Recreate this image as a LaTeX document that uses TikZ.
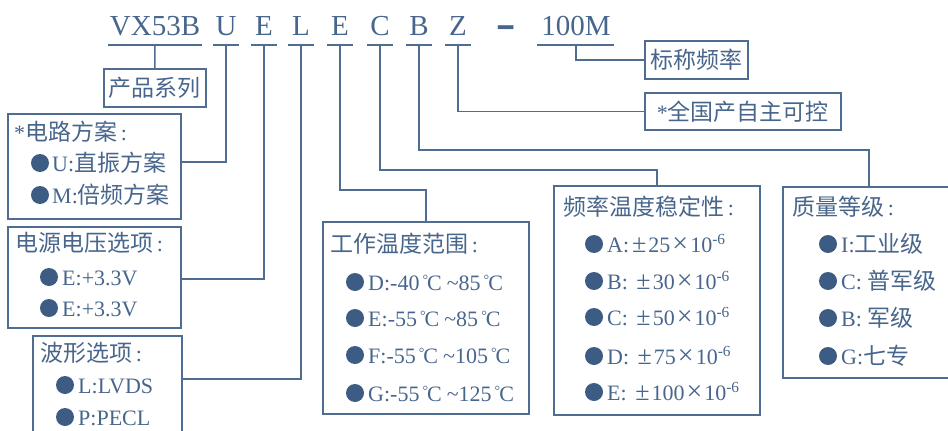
\documentclass[tikz,border=0pt]{standalone}
\usepackage{fontspec}
\setmainfont{Liberation Serif}
\newfontfamily\cjkf{Noto Sans CJK SC}
\usetikzlibrary{calc}
\definecolor{txt}{RGB}{72,102,140}
\definecolor{ln}{RGB}{79,108,145}
\definecolor{blt}{RGB}{61,92,132}
\newcommand\zh[1]{{\cjkf\fontsize{23}{23}\selectfont #1}}
\newcommand\myast{{\fontsize{22}{22}\selectfont *}}
\newcommand\dC{\hspace{3pt}\raisebox{6pt}{\fontsize{14}{14}\selectfont °}\kern-1pt C}
\newcommand\tld{\hspace{5pt}\textasciitilde}
\newcommand\pmx{\hspace{3pt}{\fontsize{26}{26}\selectfont ±}\hspace{2pt}}
\newcommand\tms{\hspace{2pt}{\fontsize{28}{28}\selectfont ×}\hspace{2pt}}
\newcommand\msix{10\textsuperscript{-6}}
\begin{document}
\begin{tikzpicture}[x=1pt,y=-1pt,
  box/.style={draw=ln, line width=1.5pt, anchor=north west, inner sep=0pt, text=txt},
  conn/.style={draw=ln, line width=1.5pt},
  code/.style={text=txt, font=\fontsize{29}{29}\selectfont, anchor=base, inner sep=0pt},
  lab/.style={text=txt, font=\fontsize{22}{22}\selectfont, anchor=base west, inner sep=0pt},
  dot/.style={circle, fill=blt, minimum size=18pt, inner sep=0pt}]
\clip (0,0) rectangle (948,431);

% code letters
\node[code] (cv) at (155,35) {VX53B};
\node[code] (cu) at (226,35) {U};
\node[code] (ce1) at (264,35) {E};
\node[code] (cl) at (301,35) {L};
\node[code] (ce2) at (340,35) {E};
\node[code] (cc) at (380,35) {C};
\node[code] (cb) at (419,35) {B};
\node[code] (cz) at (458,35) {Z};
\node[code] (cd) at (506,40) {\scalebox{1.05}[1.9]{\textbf{–}}};
\node[code] (cm) at (576,35) {100M};

% underlines
\draw[conn] ($(cv.base)+(-47,10)$) -- ($(cv.base)+(47,10)$);
\foreach \n in {cu,ce1,cl,ce2,cc,cb,cz}{
  \draw[conn] ($(\n.base)+(-13,10)$) -- ($(\n.base)+(13,10)$);
}
\draw[conn] ($(cm.base)+(-39,10)$) -- ($(cm.base)+(38,10)$);

% top boxes
\node[box, minimum width=102pt, minimum height=38pt] (bp) at (103,68) {\zh{产品系列}};
\node[box, minimum width=103pt, minimum height=38pt] (bf) at (644,40) {\zh{标称频率}};
\node[box, minimum width=196pt, minimum height=37pt] (bz) at (644,92) {\fontsize{22}{22}\selectfont\myast\zh{全国产自主可控}};

% option boxes
\node[box, minimum width=173pt, minimum height=105pt] (b1) at (7,113) {};
\node[box, minimum width=173pt, minimum height=101pt] (b2) at (7,226) {};
\node[box, minimum width=149pt, minimum height=110pt] (b3) at (32,335) {};
\node[box, minimum width=206pt, minimum height=192pt] (bt) at (322,221) {};
\node[box, minimum width=206pt, minimum height=229pt] (bs) at (553,185) {};
\node[box, minimum width=172pt, minimum height=191pt] (bq) at (782,186) {};

% connectors
\draw[conn] ($(cv.base)+(0,10)$) -- (bp.north);
\draw[conn] ($(cm.base)+(0,10)$) |- (bf.west);
\draw[conn] ($(cz.base)+(0,10)$) |- (bz.west);
\draw[conn] ($(cu.base)+(0,10)$) |- ($(b1.north east)+(0,49)$);
\draw[conn] ($(ce1.base)+(0,10)$) |- ($(b2.north east)+(0,53)$);
\draw[conn] ($(cl.base)+(0,10)$) |- ($(b3.north east)+(0,44)$);
\draw[conn] ($(ce2.base)+(0,10)$) -- ++(0,145) -| (bt.north);
\draw[conn] ($(cc.base)+(0,10)$) -- ++(0,125) -| (bs.north);
\draw[conn] ($(cb.base)+(0,10)$) -- ++(0,105) -| (bq.north);

% box 1
\node[lab] (t1) at (14,140) {\myast\zh{电路方案}\,:};
\node[dot] (d11) at (40,163) {};
\node[lab] (r11) at (52,171) {U:\zh{直振方案}};
\node[dot] (d12) at (40,195) {};
\node[lab] (r12) at (52,203) {M:\zh{倍频方案}};

% box 2
\node[lab] (t2) at (15,251) {\zh{电源电压选项}\,:};
\node[dot] (d21) at (49,277) {};
\node[lab] (r21) at (62,285) {E:+3.3V};
\node[dot] (d22) at (49,308) {};
\node[lab] (r22) at (62,316) {E:+3.3V};

% box 3
\node[lab] (t3) at (40,361) {\zh{波形选项}\,:};
\node[dot] (d31) at (65,385) {};
\node[lab] (r31) at (78,393) {L:LVDS};
\node[dot] (d32) at (65,417) {};
\node[lab] (r32) at (78,425) {P:PECL};

% temperature range
\node[lab] (t4) at (330,252) {\zh{工作温度范围}\,:};
\node[dot] (d41) at (355,282) {};
\node[lab] (r41) at (368,290) {D:-40\dC\tld85\dC};
\node[dot] (d42) at (355,318) {};
\node[lab] (r42) at (368,326) {E:-55\dC\tld85\dC};
\node[dot] (d43) at (355,355) {};
\node[lab] (r43) at (368,363) {F:-55\dC\tld105\dC};
\node[dot] (d44) at (355,393) {};
\node[lab] (r44) at (368,401) {G:-55\dC\tld125\dC};

% frequency stability
\node[lab] (t5) at (563,215) {\zh{频率温度稳定性}\,:};
\node[dot] (d51) at (594,244) {};
\node[lab] (r51) at (607,252) {A:\pmx 25\tms\msix};
\node[dot] (d52) at (594,281) {};
\node[lab] (r52) at (607,289) {B: \pmx 30\tms\msix};
\node[dot] (d53) at (594,317) {};
\node[lab] (r53) at (607,325) {C: \pmx 50\tms\msix};
\node[dot] (d54) at (594,356) {};
\node[lab] (r54) at (607,364) {D: \pmx 75\tms\msix};
\node[dot] (d55) at (594,392) {};
\node[lab] (r55) at (607,400) {E: \pmx 100\tms\msix};

% quality grade
\node[lab] (t6) at (792,215) {\zh{质量等级}\,:};
\node[dot] (d61) at (828,244) {};
\node[lab] (r61) at (841,252) {I:\zh{工业级}};
\node[dot] (d62) at (828,281) {};
\node[lab] (r62) at (841,289) {C: \zh{普军级}};
\node[dot] (d63) at (828,318) {};
\node[lab] (r63) at (841,326) {B: \zh{军级}};
\node[dot] (d64) at (828,356) {};
\node[lab] (r64) at (841,364) {G:\zh{七专}};
\end{tikzpicture}
\end{document}
